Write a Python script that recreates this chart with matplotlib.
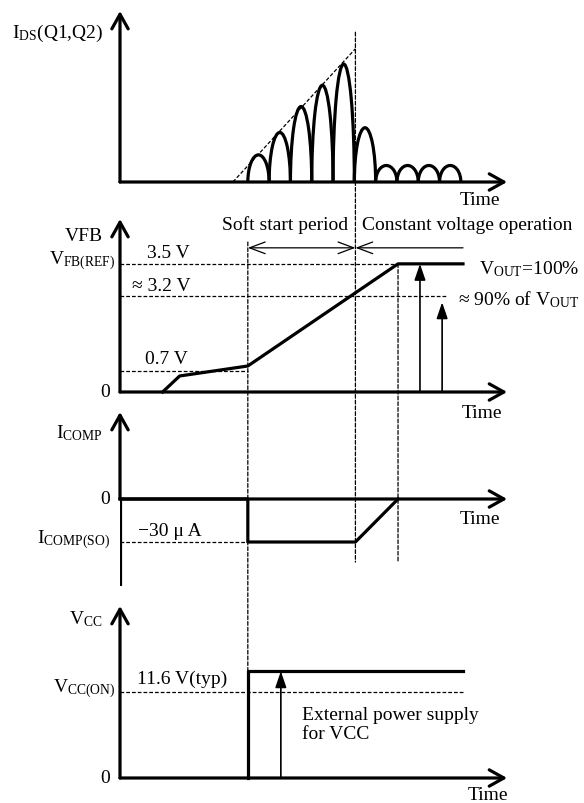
import matplotlib
matplotlib.use('Agg')
import matplotlib.pyplot as plt
from matplotlib.patches import Arc, ConnectionPatch

plt.rcParams['font.family'] = ['Liberation Serif', 'DejaVu Serif']
plt.rcParams['font.size'] = 14
plt.rcParams['mathtext.fontset'] = 'custom'
plt.rcParams['mathtext.rm'] = 'Liberation Serif'
plt.rcParams['mathtext.it'] = 'Liberation Serif:italic'

# time axis in switching cycles
T_MAX = 18.4
T_TIP = 18.17
t_ss = 6.0        # soft start begins
t_ss_end = 11.05  # soft start ends
t_reg = 13.05     # VFB reaches reference
t_stop = 16.1     # end of drawn traces

# I_DS (Q1, Q2) pulses
hump_start = [6.0, 7.0, 8.0, 9.0, 10.0, 11.0, 12.0, 13.0, 14.0, 15.0]
hump_height = [0.23, 0.42, 0.64, 0.82, 1.0, 0.46, 0.14, 0.14, 0.14, 0.14]
env_t = [5.3, 11.05]
env_y = [0.0, 1.13]

# VFB
vfb_t = [2.0, 2.8, 6.0, 13.05, 16.1]
vfb_y = [0.0, 0.125, 0.203, 1.0, 1.0]
vfb_ref = 1.0
vfb_90 = 0.75
vfb_07 = 0.164

# I_COMP (uA)
icomp_t = [0.0, 6.0, 6.0, 11.05, 13.05]
icomp_y = [0.0, 0.0, -30.0, -30.0, 0.0]
icomp_so = -30.0

# VCC (V)
vcc_t = [6.0, 6.0, 16.1]
vcc_y = [0.0, 14.4, 14.4]
vcc_on = 11.6

W, H = 584, 804
fig = plt.figure(figsize=(W / 100, H / 100), dpi=100)

dash = (0, (3, 1.6))
thick = 2.3
axis_arrow = dict(arrowstyle='->,head_length=0.75,head_width=0.42', lw=thick,
                  color='k', shrinkA=0, shrinkB=0)
thin_arrow = dict(arrowstyle='-|>,head_length=0.7,head_width=0.24', lw=1.2,
                  color='k', shrinkA=0, shrinkB=0)
span_arrow = dict(arrowstyle='<->,head_length=0.8,head_width=0.3', lw=0.9,
                  color='k', shrinkA=0, shrinkB=0)


def panel(top, bottom, ylo, yhi):
    ax = fig.add_axes([120 / W, 1 - bottom / H, 392 / W, (bottom - top) / H])
    ax.set_xlim(0, T_MAX)
    ax.set_ylim(ylo, yhi)
    ax.axis('off')
    ax.annotate('', xy=(T_TIP, 0), xytext=(0, 0), arrowprops=axis_arrow,
                annotation_clip=False)
    return ax


def y_axis(ax, ybot, ytop):
    ax.annotate('', xy=(0, ytop), xytext=(0, ybot), arrowprops=axis_arrow,
                annotation_clip=False)


# ---- panel 1: I_DS ----
ax1 = panel(12, 183, 0, 1.45)
y_axis(ax1, 0, 1.45)
for s, h in zip(hump_start, hump_height):
    ax1.add_patch(Arc((s + 0.5, 0), 1.0, 2 * h, theta1=0, theta2=180,
                      lw=thick, color='k', clip_on=False))
ax1.plot(env_t, env_y, color='k', lw=0.9, ls=dash, clip_on=False)
ax1.text(-0.8, 1.27, r'$\mathrm{I_{DS}}$(Q1,Q2)', ha='right', va='center')
ax1.text(17.84, -0.15, 'Time', ha='right', va='center')

# ---- panel 2: VFB ----
ax2 = panel(220, 393, 0, 1.35)
y_axis(ax2, 0, 1.35)
ax2.plot(vfb_t, vfb_y, color='k', lw=thick, clip_on=False)
ax2.plot([0, t_reg], [vfb_ref] * 2, color='k', lw=0.9, ls=dash)
ax2.plot([0, 15.35], [vfb_90] * 2, color='k', lw=0.9, ls=dash)
ax2.plot([0, t_ss], [vfb_07] * 2, color='k', lw=0.9, ls=dash)
ax2.annotate('', xy=(14.08, vfb_ref), xytext=(14.08, 0), arrowprops=thin_arrow)
ax2.annotate('', xy=(15.12, 0.70), xytext=(15.12, 0), arrowprops=thin_arrow)
ax2.annotate('', xy=(t_ss, 1.125), xytext=(t_ss_end, 1.125),
             arrowprops=span_arrow, annotation_clip=False)
ax2.annotate('', xy=(t_ss_end, 1.125), xytext=(t_stop, 1.125),
             arrowprops=dict(span_arrow, arrowstyle='->,head_length=0.8,head_width=0.3'),
             annotation_clip=False)
ax2.text(7.75, 1.31, 'Soft start period', ha='center', va='center')
ax2.text(11.36, 1.31, 'Constant voltage operation', ha='left', va='center')
ax2.text(-0.8, 1.22, 'VFB', ha='right', va='center')
ax2.text(-0.23, 1.03, r'$\mathrm{V_{FB(REF)}}$', ha='right', va='center')
ax2.text(2.25, 1.09, '3.5 V', ha='center', va='center')
ax2.text(1.95, 0.83, '≈ 3.2 V', ha='center', va='center')
ax2.text(2.16, 0.26, '0.7 V', ha='center', va='center')
ax2.text(-0.47, 0, '0', ha='right', va='center')
ax2.text(16.85, 0.97, r'$\mathrm{V_{OUT}}$=100%', ha='left', va='center')
ax2.text(15.85, 0.73, r'≈ 90% of $\mathrm{V_{OUT}}$', ha='left', va='center')
ax2.text(17.93, -0.16, 'Time', ha='right', va='center')

# ---- panel 3: I_COMP ----
ax3 = panel(413, 587, -60.7, 60.7)
ax3.plot([0, 0], [-60.7, 0], color='k', lw=thick, solid_capstyle='butt')
y_axis(ax3, 0, 60.7)
ax3.plot(icomp_t, icomp_y, color='k', lw=thick, clip_on=False)
ax3.plot([0, t_ss], [icomp_so] * 2, color='k', lw=0.9, ls=dash)
ax3.text(-0.8, 46.8, r'$\mathrm{I_{COMP}}$', ha='right', va='center')
ax3.text(-0.47, 0, '0', ha='right', va='center')
ax3.text(-0.47, -28, r'$\mathrm{I_{COMP(SO)}}$', ha='right', va='center')
ax3.text(2.35, -22, '−30 μ A', ha='center', va='center')
ax3.text(17.84, -13.5, 'Time', ha='right', va='center')

# ---- panel 4: VCC ----
ax4 = panel(607, 779, 0, 23.2)
y_axis(ax4, 0, 23.2)
ax4.plot(vcc_t, vcc_y, color='k', lw=thick, clip_on=False)
ax4.plot([0, t_stop], [vcc_on] * 2, color='k', lw=0.9, ls=dash)
ax4.annotate('', xy=(7.55, vcc_y[-1]), xytext=(7.55, 0), arrowprops=thin_arrow)
ax4.text(-0.8, 21.6, r'$\mathrm{V_{CC}}$', ha='right', va='center')
ax4.text(-0.23, 12.2, r'$\mathrm{V_{CC(ON)}}$', ha='right', va='center')
ax4.text(2.9, 13.4, '11.6 V(typ)', ha='center', va='center')
ax4.text(8.55, 7.3, 'External power supply\nfor VCC', ha='left', va='center',
         linespacing=1.15)
ax4.text(18.2, -2.2, 'Time', ha='right', va='center')
ax4.text(-0.47, 0, '0', ha='right', va='center')

# ---- dashed guides running across panels ----
for t, axa, ya, axb, yb in [(t_ss, ax2, 1.17, ax4, vcc_y[-1]),
                            (t_ss_end, ax1, 1.27, ax3, -44),
                            (t_reg, ax2, vfb_ref, ax3, -44)]:
    fig.add_artist(ConnectionPatch((t, ya), (t, yb), 'data', 'data',
                                   axesA=axa, axesB=axb, color='k', lw=0.9,
                                   ls=dash))

fig.savefig('out.png', dpi=100)
